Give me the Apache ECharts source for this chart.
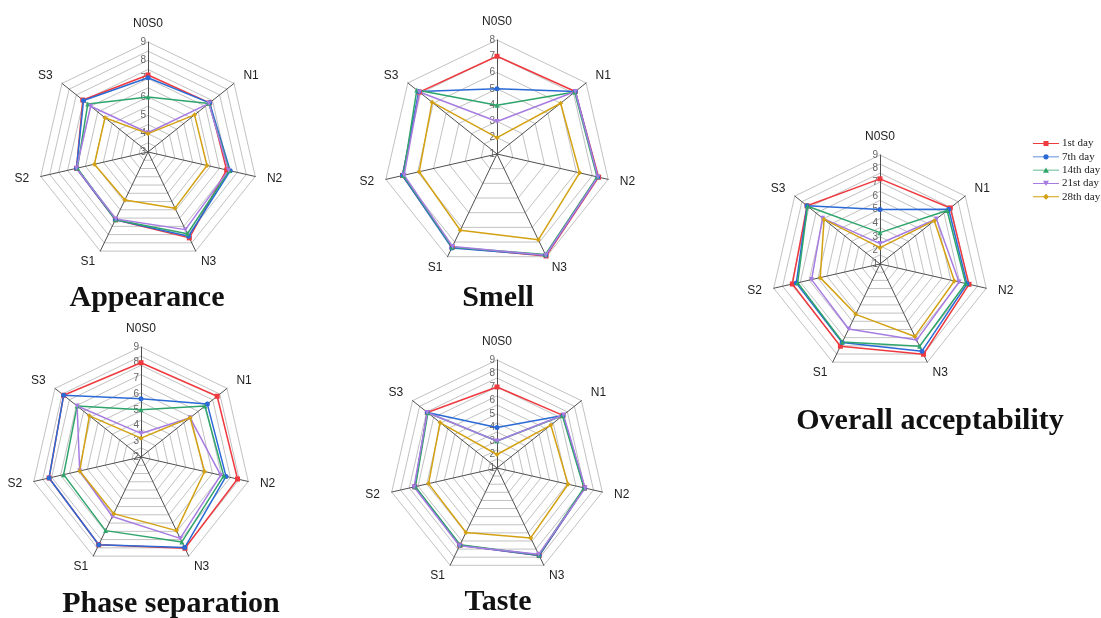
<!DOCTYPE html>
<html lang="en">
<head>
    <meta charset="UTF-8">
    <title>Sensory radar charts</title>
    <script src="https://cdn.jsdelivr.net/npm/echarts@6/dist/echarts.min.js"></script>
    <style>body { margin: 0; background: #fff; }</style>
</head>
<body>
    <div id="main" style="width:1101px;height:618px;"></div>
    <script type="text/javascript">
        // attributes, in the order N0S0, N1, N2, N3, S1, S2, S3
        var attrs = ['N0S0', 'N1', 'N2', 'N3', 'S1', 'S2', 'S3'];
        var days = ['1st day', '7th day', '14th day', '21st day', '28th day'];
        var dayColors = ['#ee3a3f', '#2b6ad6', '#2fa56b', '#a77ce2', '#d3a112'];

        // one row per day (1st, 7th, 14th, 21st, 28th)
        var appearance = [
            [7.2, 7.3, 7.4, 8.2, 7.1, 7.0, 7.55],
            [7.05, 7.3, 7.6, 8.1, 7.1, 7.0, 7.5],
            [6.0, 7.25, 7.55, 7.95, 7.1, 6.95, 7.2],
            [4.05, 7.25, 7.5, 7.7, 7.05, 7.0, 7.0],
            [4.0, 6.25, 6.3, 6.4, 5.9, 6.0, 6.0]
        ];
        var smell = [
            [7.0, 7.15, 7.4, 7.95, 7.35, 6.95, 7.1],
            [5.0, 7.15, 7.35, 7.9, 7.4, 6.95, 7.15],
            [4.0, 7.1, 7.3, 7.85, 7.35, 6.9, 7.3],
            [3.0, 7.15, 7.35, 7.9, 7.3, 6.85, 7.1],
            [2.0, 6.0, 6.2, 6.85, 6.2, 5.9, 6.1]
        ];
        var phaseSeparation = [
            [8.0, 8.2, 8.3, 8.45, 8.2, 8.0, 8.3],
            [5.7, 7.4, 7.55, 8.4, 8.2, 8.0, 8.3],
            [5.0, 7.2, 7.4, 8.0, 7.2, 7.05, 7.2],
            [3.5, 6.0, 7.2, 7.75, 6.2, 6.0, 7.2],
            [3.2, 6.0, 6.15, 7.2, 6.0, 6.0, 6.2]
        ];
        var taste = [
            [7.0, 7.25, 7.65, 8.2, 7.35, 7.25, 7.6],
            [4.0, 7.25, 7.65, 8.2, 7.35, 7.25, 7.6],
            [3.0, 7.2, 7.6, 8.15, 7.3, 7.2, 7.55],
            [3.0, 7.3, 7.7, 8.1, 7.4, 7.3, 7.6],
            [2.0, 6.1, 6.4, 6.75, 6.3, 6.2, 6.4]
        ];
        var overall = [
            [7.25, 7.6, 7.7, 8.35, 7.7, 7.6, 7.85],
            [5.0, 7.45, 7.55, 8.1, 7.4, 7.3, 7.85],
            [3.3, 7.3, 7.45, 7.7, 7.35, 7.2, 7.8],
            [2.5, 6.3, 6.95, 7.2, 6.3, 6.15, 6.4],
            [2.2, 6.1, 6.6, 6.9, 5.1, 5.5, 6.25]
        ];

        var daySymbols = ['rect', 'circle', 'triangle', 'path://M0,0 L10,0 L5,9 Z', 'diamond'];
        var legendIcons = [
            'path://M0,2.6 h26 v0.9 h-26 Z M10.5,0.5 h5 v5 h-5 Z',
            'path://M0,2.6 h26 v0.9 h-26 Z M15.6,3 a2.6,2.6 0 1,1 -5.2,0 a2.6,2.6 0 1,1 5.2,0 Z',
            'path://M0,2.6 h26 v0.9 h-26 Z M13,0.3 L16,5.7 L10,5.7 Z',
            'path://M0,2.6 h26 v0.9 h-26 Z M10,0.3 L16,0.3 L13,5.7 Z',
            'path://M0,2.6 h26 v0.9 h-26 Z M13,0 L16,3 L13,6 L10,3 Z'
        ];

        // ECharts lays indicators out counter-clockwise, the figure goes clockwise
        var order = [0, 6, 5, 4, 3, 2, 1];

        var charts = [
            { title: 'Appearance', rows: appearance, center: [148, 152], r: 110, min: 3, max: 9, rings: 12, tx: 147, ty: 283 },
            { title: 'Smell', rows: smell, center: [497, 154], r: 114, min: 1, max: 8, rings: 7, tx: 498, ty: 283 },
            { title: 'Overall acceptability', rows: overall, center: [880, 264], r: 109, min: 1, max: 9, rings: 12, tx: 930, ty: 406 },
            { title: 'Phase separation', rows: phaseSeparation, center: [141, 457], r: 110, min: 2, max: 9, rings: 12, tx: 171, ty: 589 },
            { title: 'Taste', rows: taste, center: [497, 468], r: 108, min: 1, max: 9, rings: 12, tx: 498, ty: 587 }
        ];

        var radars = [], series = [], titles = [];
        charts.forEach(function (c, ci) {
            // background rings
            radars.push({
                center: c.center, radius: c.r, startAngle: 90, shape: 'polygon',
                splitNumber: c.rings,
                indicator: order.map(function (i) { return { name: attrs[i], min: c.min, max: c.max }; }),
                axisName: { show: false },
                axisLine: { show: false },
                axisTick: { show: false },
                axisLabel: { show: false },
                splitLine: { lineStyle: { color: '#c2c2c2', width: 1 } },
                splitArea: { show: false }
            });
            // spokes, names and the value labels on the top spoke
            radars.push({
                center: c.center, radius: c.r, startAngle: 90, shape: 'polygon',
                splitNumber: c.max - c.min,
                nameGap: 12,
                indicator: order.map(function (i, k) {
                    return { name: attrs[i], min: c.min, max: c.max, axisLabel: { show: k === 0 } };
                }),
                axisName: { color: '#222', fontSize: 12, fontFamily: 'Arial, "Liberation Sans", sans-serif' },
                axisLine: { lineStyle: { color: '#505050', width: 1 } },
                axisTick: { show: false },
                axisLabel: { show: true, color: '#666', fontSize: 10, margin: 2, fontFamily: 'Arial, "Liberation Sans", sans-serif' },
                splitLine: { show: false },
                splitArea: { show: false }
            });
            series.push({
                type: 'radar',
                radarIndex: ci * 2 + 1,
                symbolSize: 5,
                data: c.rows.map(function (row, d) {
                    return {
                        name: days[d],
                        value: order.map(function (i) { return row[i]; }),
                        symbol: daySymbols[d],
                        itemStyle: { color: dayColors[d] },
                        lineStyle: { color: dayColors[d], width: 1.5 }
                    };
                })
            });
            titles.push({
                text: c.title, left: c.tx, top: c.ty, textAlign: 'center', padding: 0,
                textStyle: { fontFamily: '"Times New Roman", "Liberation Serif", serif', fontWeight: 'bold', fontSize: 30, color: '#111' }
            });
        });

        var myChart = echarts.init(document.getElementById('main'));
        var option = {
            backgroundColor: '#fff',
            animation: false,
            title: titles,
            legend: {
                orient: 'vertical', left: 1033, top: 138,
                itemWidth: 26, itemHeight: 6, itemGap: 2.3, padding: 0,
                textStyle: { fontFamily: '"Times New Roman", "Liberation Serif", serif', fontSize: 11, color: '#222', padding: [0, 0, 0, -2] },
                data: days.map(function (d, i) { return { name: d, icon: legendIcons[i] }; })
            },
            radar: radars,
            series: series
        };
        myChart.setOption(option);
    </script>
</body>
</html>
